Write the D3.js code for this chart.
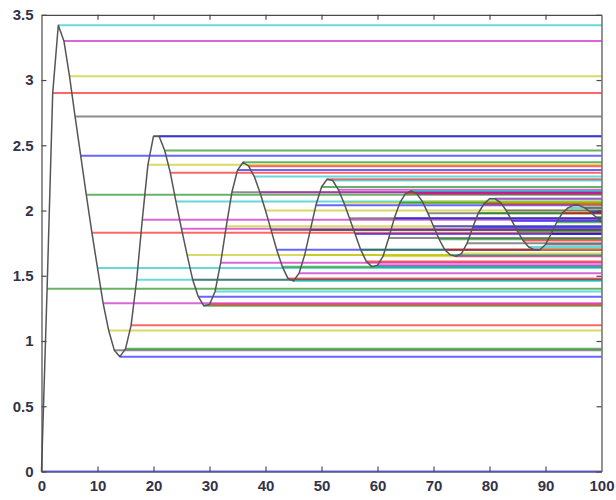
<!DOCTYPE html>
<html>
<head>
<meta charset="utf-8">
<script src="https://cdn.jsdelivr.net/npm/d3@7"></script>
<style>
  html, body { margin: 0; padding: 0; background: #fff; }
  svg { display: block; }
  text { font-family: "Liberation Sans", Arial, sans-serif; }
</style>
</head>
<body>
<svg id="chart" width="616" height="500"></svg>
<script>
// ---- data ----
const sampleTimes = [0,1,2,3,4,5,6,7,8,9,10,11,12,13,14,15,16,17,18,19,20,
  21,22,23,24,25,26,27,28,29,30,31,32,33,34,35,36,37,38,39,40,
  41,42,43,44,45,46,47,48,49,50,51,52,53,54,55,56,57,58,59,60,
  61,62,63,64,65,66,67,68,69,70,71,72,73,74,75,76,77,78,79,80,
  81,82,83,84,85,86,87,88,89,90,91,92,93,94,95,96,97,98,99,100];
const response = [0,1.40,2.90,3.42,3.30,3.03,2.72,2.42,2.12,1.83,1.56,
  1.29,1.08,0.93,0.88,0.94,1.12,1.47,1.93,2.35,2.57,
  2.57,2.46,2.29,2.07,1.86,1.66,1.47,1.34,1.27,1.28,
  1.38,1.60,1.88,2.14,2.31,2.37,2.34,2.26,2.14,2.00,
  1.85,1.70,1.57,1.48,1.46,1.52,1.66,1.85,2.04,2.18,
  2.24,2.23,2.16,2.06,1.94,1.82,1.70,1.61,1.57,1.58,
  1.65,1.79,1.94,2.06,2.13,2.15,2.13,2.07,1.98,1.88,
  1.78,1.70,1.66,1.65,1.67,1.75,1.87,1.98,2.05,2.09,
  2.09,2.06,2.00,1.92,1.84,1.77,1.72,1.70,1.70,1.74,
  1.82,1.91,1.98,2.02,2.04,2.04,2.02,1.99,1.95,1.91];
const colorCycle = ["#0000ff","#008000","#ff0000","#00bfbf","#bf00bf","#bfbf00","#404040"];
const xTicks = [0,10,20,30,40,50,60,70,80,90,100];
const yTicks = [0,0.5,1,1.5,2,2.5,3,3.5];
const yTickLabels = ["0","0.5","1","1.5","2","2.5","3","3.5"];
const xDomain = [0,100];
const yDomain = [0,3.5];

// ---- layout ----
const plotLeft = 41.5, plotRight = 601.5, plotTop = 14.8, plotBottom = 471.5;
const svg = d3.select("#chart");
const x = d3.scaleLinear().domain(xDomain).range([plotLeft, plotRight]);
const y = d3.scaleLinear().domain(yDomain).range([plotBottom, plotTop]);

// horizontal lines from each sample to the right edge
const hl = svg.append("g");
sampleTimes.forEach((t, i) => {
  hl.append("line")
    .attr("x1", x(t)).attr("x2", x(xDomain[1]))
    .attr("y1", y(response[i])).attr("y2", y(response[i]))
    .attr("stroke", colorCycle[i % colorCycle.length])
    .attr("stroke-width", 2)
    .attr("stroke-opacity", 0.6);
});

// response curve
const line = d3.line().x((d, i) => x(sampleTimes[i])).y(d => y(d));
svg.append("path")
  .datum(response)
  .attr("d", line)
  .attr("fill", "none")
  .attr("stroke", "#555555")
  .attr("stroke-width", 1.5)
  .attr("stroke-linejoin", "round");

// axes box
const axisColor = "#4a4a4a";
const tickSize = 5;
const gb = svg.append("g").attr("transform", `translate(0,${plotBottom})`)
  .call(d3.axisBottom(x).tickValues(xTicks).tickSizeInner(-tickSize).tickSizeOuter(0).tickPadding(9));
const gt = svg.append("g").attr("transform", `translate(0,${plotTop})`)
  .call(d3.axisTop(x).tickValues(xTicks).tickSizeInner(-tickSize).tickSizeOuter(0).tickFormat(""));
const gl = svg.append("g").attr("transform", `translate(${plotLeft},0)`)
  .call(d3.axisLeft(y).tickValues(yTicks).tickSizeInner(-tickSize).tickSizeOuter(0).tickPadding(8)
    .tickFormat((d, i) => yTickLabels[i]));
const gr = svg.append("g").attr("transform", `translate(${plotRight},0)`)
  .call(d3.axisRight(y).tickValues(yTicks).tickSizeInner(-tickSize).tickSizeOuter(0).tickFormat(""));

[gb, gt, gl, gr].forEach(g => {
  g.selectAll(".domain").attr("stroke", axisColor).attr("stroke-width", 1.2);
  g.selectAll(".tick line").attr("stroke", axisColor).attr("stroke-width", 1.2);
  g.selectAll(".tick text")
    .attr("fill", "#333348")
    .attr("font-family", "'Liberation Sans', Arial, sans-serif")
    .attr("font-size", 15)
    .attr("font-weight", "bold");
});
gb.selectAll(".tick").filter(d => d === 0 || d === 100).select("line").remove();
gt.selectAll(".tick").filter(d => d === 0 || d === 100).select("line").remove();
</script>
</body>
</html>
